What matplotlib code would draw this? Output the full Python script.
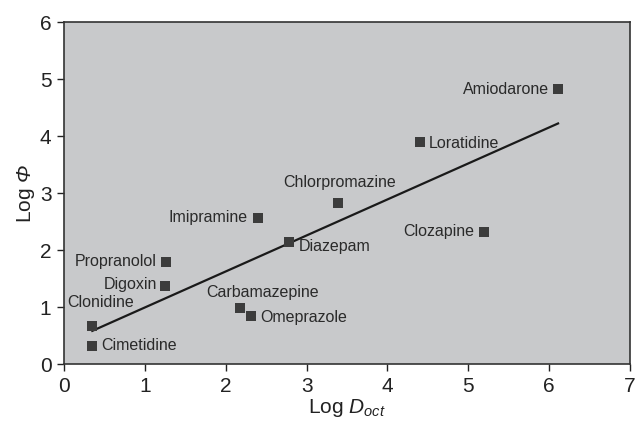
import numpy as np
import matplotlib
matplotlib.use("Agg")
import matplotlib.pyplot as plt

plt.rcParams['font.family'] = ['Liberation Sans', 'DejaVu Sans']
plt.rcParams['mathtext.fontset'] = 'custom'
plt.rcParams['mathtext.rm'] = 'Liberation Sans'
plt.rcParams['mathtext.it'] = 'Liberation Sans:italic'
# \mathit forces capital greek upright, so borrow the bf slot for an italic Phi
plt.rcParams['mathtext.bf'] = 'Liberation Sans:italic'

# data
drugs = ['Amiodarone', 'Loratidine', 'Chlorpromazine', 'Clozapine', 'Imipramine',
         'Diazepam', 'Propranolol', 'Digoxin', 'Clonidine', 'Cimetidine',
         'Carbamazepine', 'Omeprazole']
log_doct = [6.11, 4.40, 3.39, 5.19, 2.40, 2.78, 1.26, 1.25, 0.35, 0.35, 2.18, 2.31]
log_phi = [4.82, 3.89, 2.82, 2.32, 2.56, 2.14, 1.79, 1.37, 0.67, 0.32, 0.98, 0.84]

# label placement: (dx px, dy px, ha)
offsets = {
    'Amiodarone': (-9, 0, 'right'),
    'Loratidine': (9, -1, 'left'),
    'Chlorpromazine': (2, 21, 'center'),
    'Clozapine': (-9, 0, 'right'),
    'Imipramine': (-10, 1, 'right'),
    'Diazepam': (10, -4, 'left'),
    'Propranolol': (-9, 0, 'right'),
    'Digoxin': (-8, 1, 'right'),
    'Clonidine': (8, 23, 'center'),
    'Cimetidine': (9, 0, 'left'),
    'Carbamazepine': (22, 16, 'center'),
    'Omeprazole': (9, -1, 'left'),
}

fig = plt.figure(figsize=(6.38, 4.32), dpi=100)
ax = fig.add_axes([0.1003, 0.1574, 0.8872, 0.7916])
ax.set_facecolor('#c8c9cb')

ax.scatter(log_doct, log_phi, marker='s', s=42, color='#3c3c3c', zorder=3, linewidths=0)

k, b = np.polyfit(log_doct, log_phi, 1)
xl = np.array([min(log_doct), max(log_doct)])
ax.plot(xl, k * xl + b, color='#1a1a1a', lw=1.6, zorder=2)

for name, x, y in zip(drugs, log_doct, log_phi):
    dx, dy, ha = offsets[name]
    ax.annotate(name, (x, y), xytext=(dx, dy), textcoords='offset pixels',
                ha=ha, va='center', fontsize=11.5, color='#2a2a2a')

ax.set_xlim(0, 7)
ax.set_ylim(0, 6)
ax.set_xticks(range(8))
ax.set_yticks(range(7))
ax.tick_params(labelsize=15, length=5, width=1, direction='out', colors='#222222', pad=4)
for s in ax.spines.values():
    s.set_color('#333333')
    s.set_linewidth(1.2)
ax.set_xlabel(r'Log $D_{oct}$', fontsize=15, color='#222222', labelpad=1)
ax.set_ylabel(r'Log $\mathbf{Φ}$', fontsize=15, color='#222222', labelpad=2)

fig.savefig('out.png', dpi=100)
